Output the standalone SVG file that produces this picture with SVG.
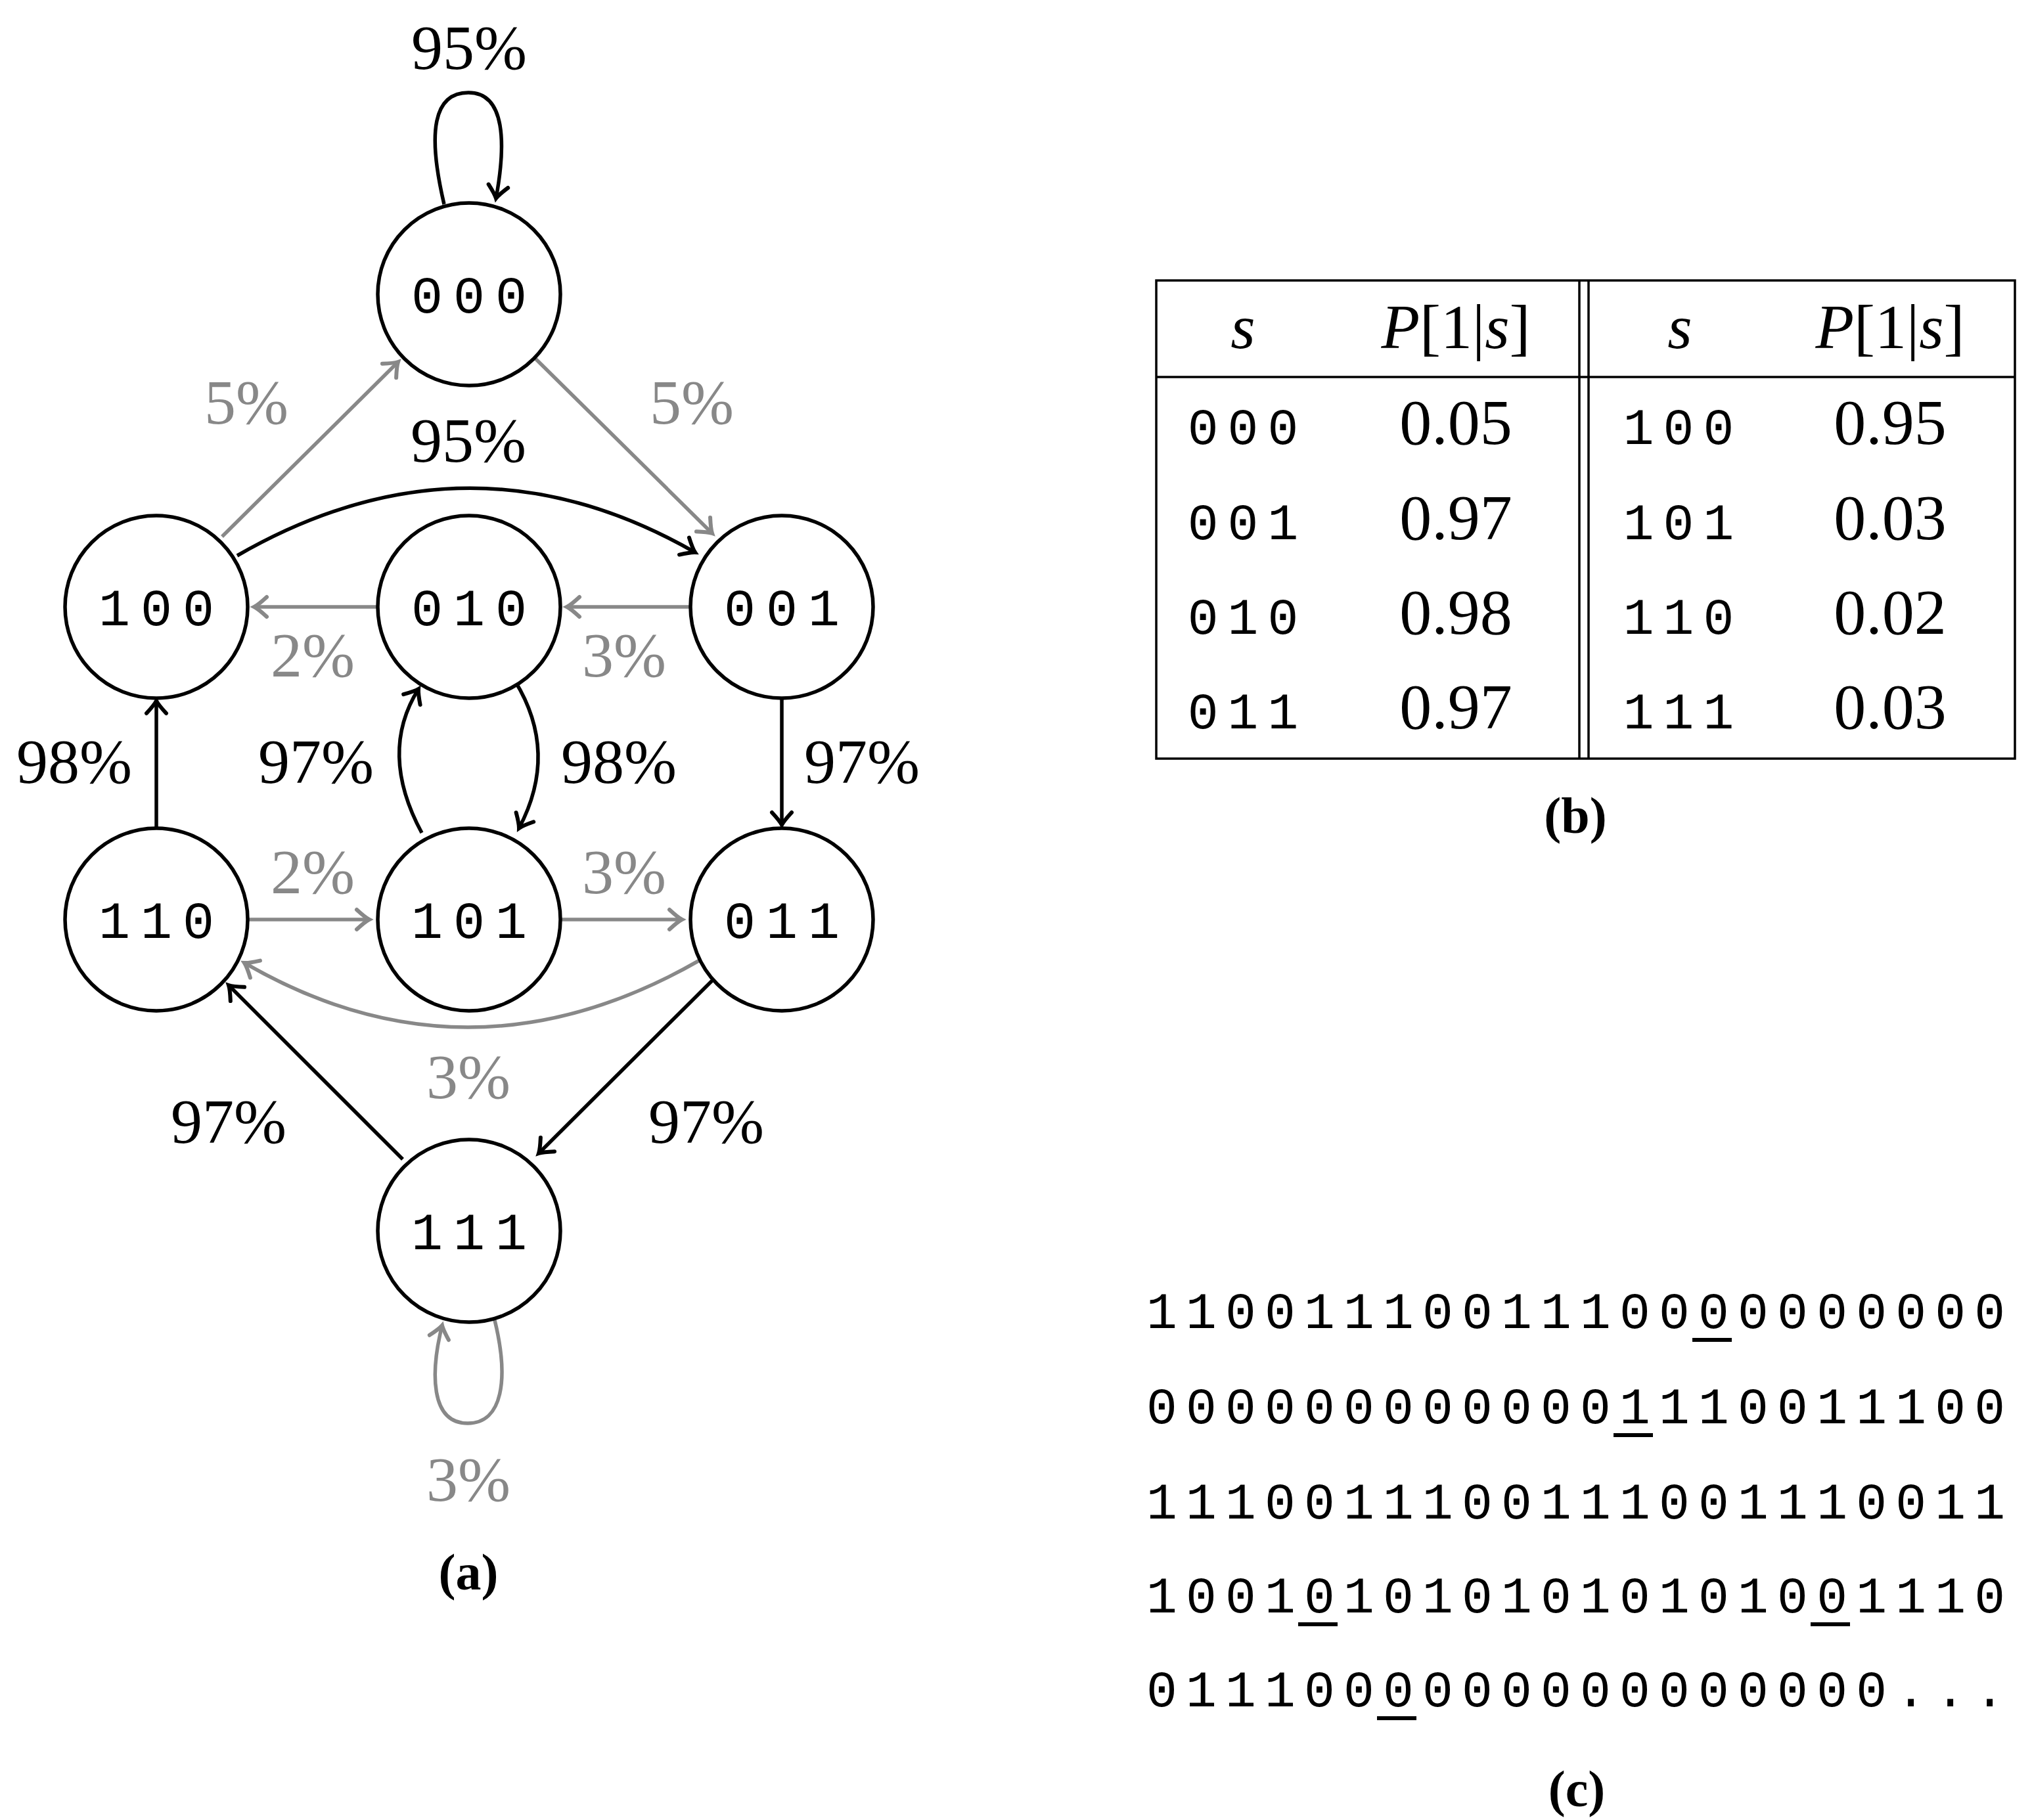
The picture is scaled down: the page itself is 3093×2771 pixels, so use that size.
<svg xmlns="http://www.w3.org/2000/svg" width="3093" height="2771" viewBox="0 0 3093 2771">
<style>
.nd{fill:#fff;stroke:#000;stroke-width:5.5}
.nt{font-family:"Liberation Mono",monospace;font-size:80px;letter-spacing:16px;text-anchor:middle}
.k{fill:none;stroke:#000;stroke-width:5.5}
.g{fill:none;stroke:#888;stroke-width:5.5}
.lb{font-family:"Liberation Serif",serif;font-size:96px;text-anchor:middle}
.gl{fill:#888}
.cap{font-family:"Liberation Serif",serif;font-size:78px;font-weight:bold;text-anchor:middle}
.mono{font-family:"Liberation Mono",monospace;font-size:78px;letter-spacing:13.2px}
.tm{font-family:"Liberation Mono",monospace;font-size:78px;letter-spacing:14px;text-anchor:middle}
.tv{font-family:"Liberation Serif",serif;font-size:98px;text-anchor:middle}
.ti{font-family:"Liberation Serif",serif;font-size:96px;text-anchor:middle}
.ul{stroke:#000;stroke-width:6}
</style>
<defs>
<marker id="ak" markerUnits="userSpaceOnUse" markerWidth="50" markerHeight="50" viewBox="-25 -25 50 50" refX="0" refY="0" orient="auto"><path d="M-19,-15 Q-6,-3 0,0 Q-6,3 -19,15" fill="none" stroke="#000" stroke-width="6" stroke-linecap="round"/></marker>
<marker id="ag" markerUnits="userSpaceOnUse" markerWidth="50" markerHeight="50" viewBox="-25 -25 50 50" refX="0" refY="0" orient="auto"><path d="M-19,-15 Q-6,-3 0,0 Q-6,3 -19,15" fill="none" stroke="#888" stroke-width="6" stroke-linecap="round"/></marker>
</defs>
<g id="connectors">
<path class="k" d="M676,311 C650,200 660,141 713,141 C770,141 770,220 755,302" marker-end="url(#ak)"/>
<path class="g" d="M338,817 L606,551" marker-end="url(#ag)"/>
<path class="g" d="M815,546 L1084,812" marker-end="url(#ag)"/>
<path class="k" d="M361,846 Q713,643 1058,841" marker-end="url(#ak)"/>
<path class="g" d="M574,924 L387,924" marker-end="url(#ag)"/>
<path class="g" d="M1050,924 L863,924" marker-end="url(#ag)"/>
<path class="k" d="M238,1261 L238,1067" marker-end="url(#ak)"/>
<path class="k" d="M1190,1063 L1190,1256" marker-end="url(#ak)"/>
<path class="k" d="M784,1037 Q851,1146 790,1261" marker-end="url(#ak)"/>
<path class="k" d="M642,1268 Q576,1146 637,1049" marker-end="url(#ak)"/>
<path class="g" d="M379,1400 L562,1400" marker-end="url(#ag)"/>
<path class="g" d="M854,1400 L1038,1400" marker-end="url(#ag)"/>
<path class="g" d="M1065,1462 Q713,1664 372,1466" marker-end="url(#ag)"/>
<path class="k" d="M613,1765 L348,1500" marker-end="url(#ak)"/>
<path class="k" d="M1087,1490 L820,1756" marker-end="url(#ak)"/>
<path class="g" d="M753,2010 C775,2100 765,2167 712,2167 C655,2167 655,2090 673,2018" marker-end="url(#ag)"/>
</g>
<g id="n000"><circle class="nd" cx="714" cy="448" r="139"/><text class="nt" x="722" y="476">000</text></g>
<g id="n100"><circle class="nd" cx="238" cy="924" r="139"/><text class="nt" x="246" y="952">100</text></g>
<g id="n010"><circle class="nd" cx="714" cy="924" r="139"/><text class="nt" x="722" y="952">010</text></g>
<g id="n001"><circle class="nd" cx="1190" cy="924" r="139"/><text class="nt" x="1198" y="952">001</text></g>
<g id="n110"><circle class="nd" cx="238" cy="1400" r="139"/><text class="nt" x="246" y="1428">110</text></g>
<g id="n101"><circle class="nd" cx="714" cy="1400" r="139"/><text class="nt" x="722" y="1428">101</text></g>
<g id="n011"><circle class="nd" cx="1190" cy="1400" r="139"/><text class="nt" x="1198" y="1428">011</text></g>
<g id="n111"><circle class="nd" cx="714" cy="1874" r="139"/><text class="nt" x="722" y="1902">111</text></g>
<g id="labels">
<text class="lb" x="714" y="105">95%</text>
<text class="lb gl" x="375" y="645">5%</text>
<text class="lb gl" x="1053" y="645">5%</text>
<text class="lb" x="713" y="703">95%</text>
<text class="lb gl" x="476" y="1030">2%</text>
<text class="lb gl" x="950" y="1030">3%</text>
<text class="lb" x="113" y="1192">98%</text>
<text class="lb" x="481" y="1192">97%</text>
<text class="lb" x="942" y="1192">98%</text>
<text class="lb" x="1312" y="1192">97%</text>
<text class="lb gl" x="476" y="1360">2%</text>
<text class="lb gl" x="950" y="1360">3%</text>
<text class="lb gl" x="713" y="1672">3%</text>
<text class="lb" x="348" y="1740">97%</text>
<text class="lb" x="1075" y="1740">97%</text>
<text class="lb gl" x="713" y="2285">3%</text>
<text class="cap" x="713" y="2420">(a)</text>
</g>
<g id="table">
<rect x="1760" y="427" width="1307" height="728" fill="none" stroke="#000" stroke-width="3.5"/>
<line x1="1760" y1="574" x2="3067" y2="574" stroke="#000" stroke-width="3.5"/>
<line x1="2404" y1="427" x2="2404" y2="1155" stroke="#000" stroke-width="3.5"/>
<line x1="2418" y1="427" x2="2418" y2="1155" stroke="#000" stroke-width="3.5"/>
<text class="ti" x="1892" y="530" font-style="italic">s</text>
<text class="ti" x="2216" y="530"><tspan font-style="italic">P</tspan>[1|<tspan font-style="italic">s</tspan>]</text>
<text class="ti" x="2557" y="530" font-style="italic">s</text>
<text class="ti" x="2877" y="530"><tspan font-style="italic">P</tspan>[1|<tspan font-style="italic">s</tspan>]</text>
<text class="tm" x="1899" y="676">000</text><text class="tv" x="2216" y="676">0.05</text>
<text class="tm" x="1899" y="821">001</text><text class="tv" x="2216" y="821">0.97</text>
<text class="tm" x="1899" y="965">010</text><text class="tv" x="2216" y="965">0.98</text>
<text class="tm" x="1899" y="1109">011</text><text class="tv" x="2216" y="1109">0.97</text>
<text class="tm" x="2562" y="676">100</text><text class="tv" x="2877" y="676">0.95</text>
<text class="tm" x="2562" y="821">101</text><text class="tv" x="2877" y="821">0.03</text>
<text class="tm" x="2562" y="965">110</text><text class="tv" x="2877" y="965">0.02</text>
<text class="tm" x="2562" y="1109">111</text><text class="tv" x="2877" y="1109">0.03</text>
<text class="cap" x="2398" y="1268">(b)</text>
</g>
<g id="sequence">
<text class="mono" x="1745" y="2022">1100111001110000000000</text>
<text class="mono" x="1745" y="2167">0000000000001110011100</text>
<text class="mono" x="1745" y="2312">1110011100111001110011</text>
<text class="mono" x="1745" y="2455">1001010101010101001110</text>
<text class="mono" x="1745" y="2598">0111000000000000000...</text>
<line class="ul" x1="2576" y1="2040" x2="2636" y2="2040"/>
<line class="ul" x1="2456" y1="2185" x2="2516" y2="2185"/>
<line class="ul" x1="1976" y1="2473" x2="2036" y2="2473"/>
<line class="ul" x1="2756" y1="2473" x2="2816" y2="2473"/>
<line class="ul" x1="2096" y1="2616" x2="2156" y2="2616"/>
<text class="cap" x="2400" y="2750">(c)</text>
</g>
</svg>
